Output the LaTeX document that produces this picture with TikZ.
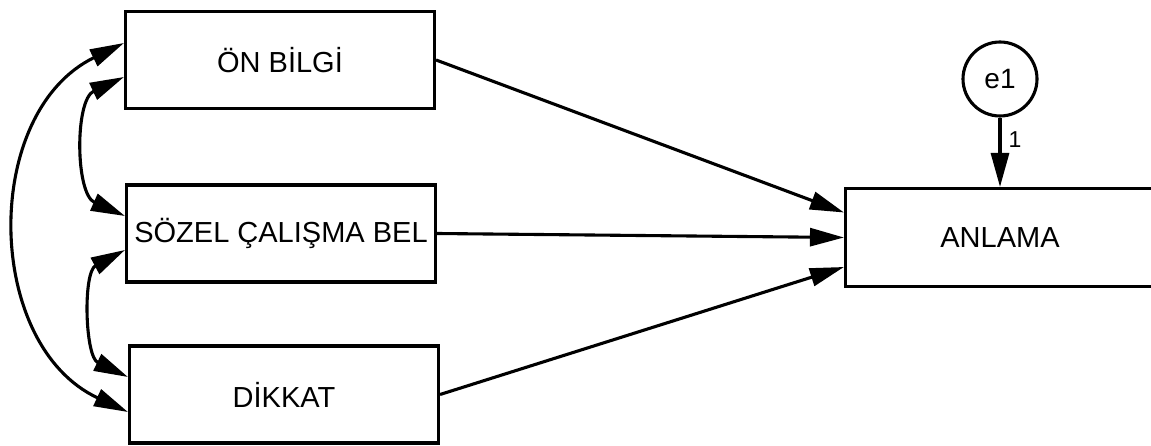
\documentclass[tikz,border=0pt]{standalone}
\usepackage{fontspec}
\setmainfont{Liberation Sans}
\usetikzlibrary{arrows.meta}
\begin{document}
\begin{tikzpicture}[x=1pt,y=1pt,
  box/.style={draw, line width=3.1pt, minimum width=309pt, minimum height=97pt, inner sep=0pt, font=\fontsize{29}{34}\selectfont},
  latent/.style={circle, draw, line width=3.1pt, minimum size=74pt, inner sep=0pt, font=\fontsize{28}{32}\selectfont},
  tipA/.tip={Triangle[length=34pt,width=18pt]},
  reg/.style={line width=3.1pt, -tipA},
  cov/.style={line width=3.1pt, tipA-tipA},
  lbl/.style={font=\fontsize{23}{27}\selectfont, inner sep=0pt}
]
\useasboundingbox (0,0) rectangle (1151,-446);
\node[box] (on) at (280,-60) {ÖN BİLGİ};
\node[box] (soz) at (281,-233.5) {SÖZEL ÇALIŞMA BEL};
\node[box] (dik) at (284,-394.5) {DİKKAT};
\node[box, minimum height=98pt] (anl) at (1000,-237.5) {ANLAMA};
\node[latent] (e1) at (1000,-79) {e1};

\draw[reg] (on.east) -- ([yshift=25pt]anl.west);
\draw[reg] (soz.east) -- (anl.west);
\draw[reg] (dik.east) -- ([yshift=-29.5pt]anl.west);
\draw[reg] (e1.south) -- (anl.north) node[lbl, pos=0.32, right=7pt] {1};

\draw[cov] ([yshift=17pt]on.west) to[out=206, in=155, looseness=1.1] ([yshift=-17.5pt]dik.west);
\draw[cov] ([yshift=-17pt]on.west) to[out=205, in=156, looseness=1.0] ([yshift=17.5pt]soz.west);
\draw[cov] ([yshift=-16.5pt]soz.west) to[out=208, in=154.5, looseness=0.96] ([yshift=17.5pt]dik.west);
\end{tikzpicture}
\end{document}
